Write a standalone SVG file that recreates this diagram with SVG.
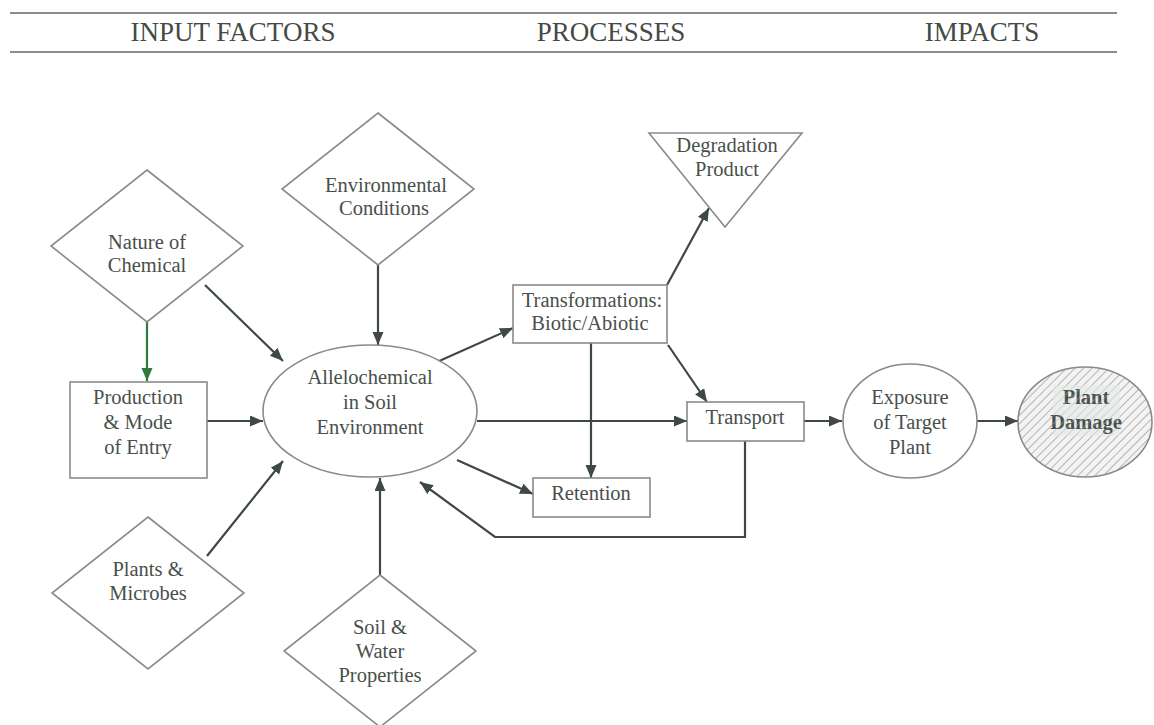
<svg xmlns="http://www.w3.org/2000/svg" width="1154" height="725" viewBox="0 0 1154 725">
  <style>
    text { font-family: "Liberation Serif", "DejaVu Serif", "Times New Roman", Times, serif; }
    .hdr { font-size: 27px; fill: #434b46; text-anchor: middle; }
    .rule { stroke: #8c8c8c; stroke-width: 2; }
    .shape { fill: #ffffff; stroke: #8a8a8a; stroke-width: 1.6; }
    .lbl { font-size: 20.5px; fill: #48504b; text-anchor: middle; }
    .edge { fill: none; stroke: #3e4844; stroke-width: 2.2; marker-end: url(#arrow); }
    .edge-green { fill: none; stroke: #2f7a3a; stroke-width: 2.2; marker-end: url(#arrow-green); }
  </style>
  <defs>
    <marker id="arrow" markerUnits="userSpaceOnUse" markerWidth="14" markerHeight="12" refX="13" refY="5.5" orient="auto">
      <path d="M0,0 L13,5.5 L0,11 Z" fill="#3e4844"/>
    </marker>
    <marker id="arrow-green" markerUnits="userSpaceOnUse" markerWidth="14" markerHeight="12" refX="13" refY="5.5" orient="auto">
      <path d="M0,0 L13,5.5 L0,11 Z" fill="#2f7a3a"/>
    </marker>
    <pattern id="hatch" patternUnits="userSpaceOnUse" width="6" height="6" patternTransform="rotate(45)">
      <rect width="6" height="6" fill="#f3f3f3"/>
      <line x1="0" y1="0" x2="0" y2="6" stroke="#9a9a9a" stroke-width="1.4"/>
    </pattern>
    <pattern id="hatch-light" patternUnits="userSpaceOnUse" width="6" height="6" patternTransform="rotate(45)">
      <line x1="0" y1="0" x2="0" y2="6" stroke="#b5b5b5" stroke-width="1.2"/>
    </pattern>
  </defs>

  <!-- column headings -->
  <g id="header">
    <line class="rule" x1="10" y1="13" x2="1117" y2="13"/>
    <line class="rule" x1="10" y1="52" x2="1117" y2="52"/>
    <text class="hdr" x="233" y="41">INPUT FACTORS</text>
    <text class="hdr" x="611" y="41">PROCESSES</text>
    <text class="hdr" x="982" y="41">IMPACTS</text>
  </g>

  <!-- connectors -->
  <g id="connectors">
    <path class="edge-green" d="M147,322 L147,381"/>
    <path class="edge" d="M205,285 L283,361"/>
    <path class="edge" d="M207,421 L263,421"/>
    <path class="edge" d="M207,556 L283,461"/>
    <path class="edge" d="M378,265 L378,345"/>
    <path class="edge" d="M380,575 L380,478"/>
    <path class="edge" d="M437,362 L513,328"/>
    <path class="edge" d="M477,421 L687,421"/>
    <path class="edge" d="M457,460 L533,494"/>
    <path class="edge" d="M591,343 L591,478"/>
    <path class="edge" d="M668,345 L707,402"/>
    <path class="edge" d="M667,285 L709,208"/>
    <path class="edge" d="M804,421 L842,421"/>
    <path class="edge" d="M977,421 L1018,421"/>
    <path class="edge" d="M745,441 L745,537 L495,537 L420,482"/>
  </g>

  <!-- input factors -->
  <g id="nature-of-chemical">
    <polygon class="shape" points="147,170 243,246 147,322 51,246"/>
    <text class="lbl" x="147" y="249">Nature of</text>
    <text class="lbl" x="147" y="272">Chemical</text>
  </g>
  <g id="production-mode-of-entry">
    <rect class="shape" x="70" y="382" width="137" height="96"/>
    <text class="lbl" x="138" y="404">Production</text>
    <text class="lbl" x="138" y="429">&amp; Mode</text>
    <text class="lbl" x="138" y="454">of  Entry</text>
  </g>
  <g id="plants-microbes">
    <polygon class="shape" points="148,517 244,593 148,669 52,593"/>
    <text class="lbl" x="148" y="576">Plants &amp;</text>
    <text class="lbl" x="148" y="600">Microbes</text>
  </g>
  <g id="environmental-conditions">
    <polygon class="shape" points="378,113 474,189 378,265 282,189"/>
    <text class="lbl" x="386" y="192">Environmental</text>
    <text class="lbl" x="384" y="215">Conditions</text>
  </g>
  <g id="soil-water-properties">
    <polygon class="shape" points="380,575 476,651 380,727 284,651"/>
    <text class="lbl" x="380" y="634">Soil &amp;</text>
    <text class="lbl" x="380" y="658">Water</text>
    <text class="lbl" x="380" y="682">Properties</text>
  </g>

  <!-- processes -->
  <g id="allelochemical">
    <ellipse class="shape" cx="370" cy="411" rx="107" ry="66"/>
    <text class="lbl" x="370" y="384">Allelochemical</text>
    <text class="lbl" x="370" y="409">in Soil</text>
    <text class="lbl" x="370" y="434">Environment</text>
  </g>
  <g id="transformations">
    <rect class="shape" x="513" y="285" width="154" height="58"/>
    <text class="lbl" x="592" y="307">Transformations:</text>
    <text class="lbl" x="590" y="330">Biotic/Abiotic</text>
  </g>
  <g id="degradation-product">
    <polygon class="shape" points="649,133 802,133 725,227"/>
    <text class="lbl" x="727" y="152">Degradation</text>
    <text class="lbl" x="727" y="176">Product</text>
  </g>
  <g id="transport">
    <rect class="shape" x="687" y="402" width="117" height="39"/>
    <text class="lbl" x="745" y="424">Transport</text>
  </g>
  <g id="retention">
    <rect class="shape" x="533" y="478" width="117" height="39"/>
    <text class="lbl" x="591" y="500">Retention</text>
  </g>

  <!-- impacts -->
  <g id="exposure">
    <ellipse class="shape" cx="910" cy="421" rx="67" ry="57"/>
    <text class="lbl" x="910" y="404">Exposure</text>
    <text class="lbl" x="910" y="429">of Target</text>
    <text class="lbl" x="910" y="454">Plant</text>
  </g>
  <g id="plant-damage">
    <ellipse cx="1085" cy="422" rx="67" ry="55" fill="url(#hatch)" stroke="#8a8a8a" stroke-width="1.6"/>
    <rect x="1053" y="385" width="67" height="51" fill="#e9edeb"/>
    <text class="lbl" x="1086" y="404" font-weight="bold" fill="#6a736e">Plant</text>
    <text class="lbl" x="1086" y="429" font-weight="bold" fill="#3f4843">Damage</text>
    <rect x="1053" y="385" width="67" height="51" fill="url(#hatch-light)" opacity="0.8"/>
  </g>
</svg>
